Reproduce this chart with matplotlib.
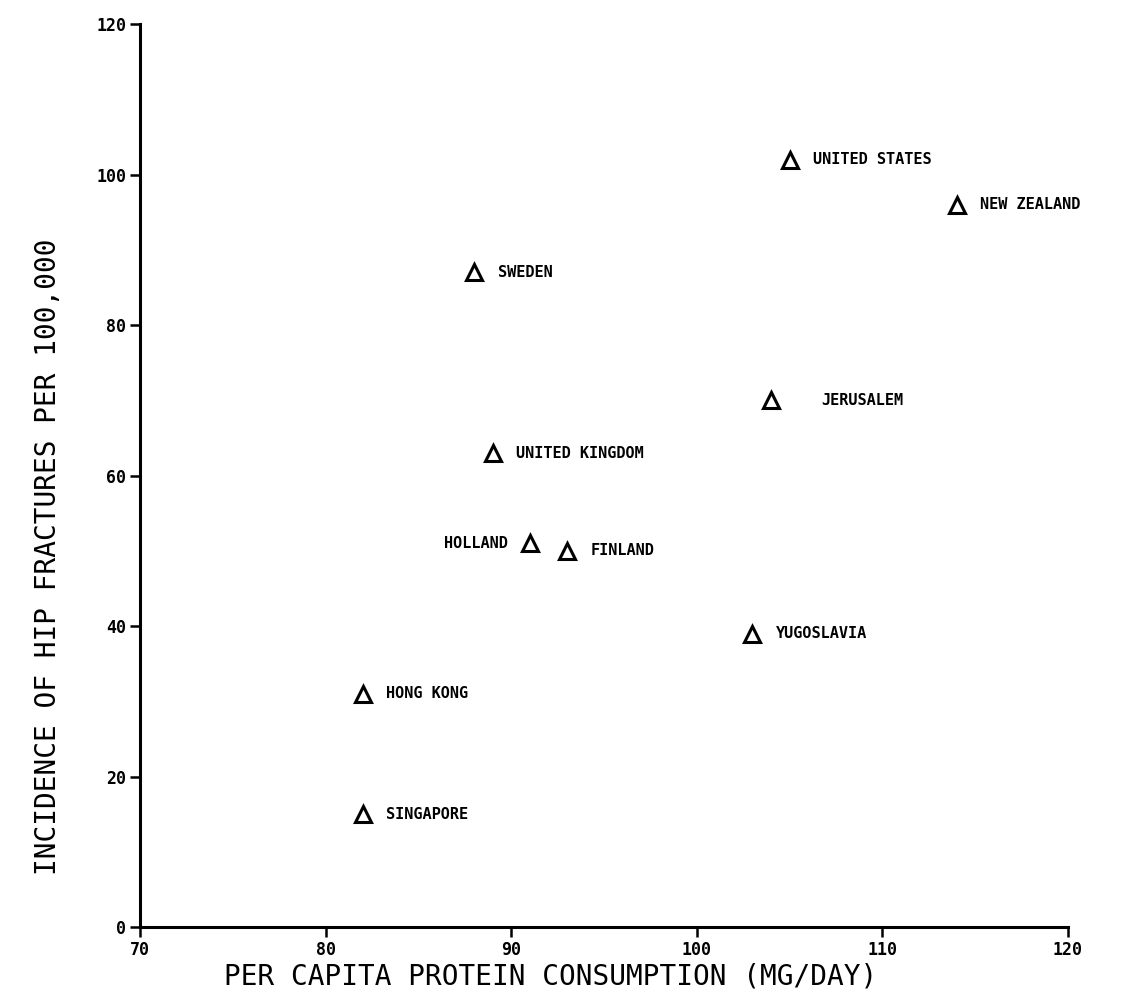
import matplotlib
matplotlib.use("Agg")
import matplotlib.pyplot as plt

# per capita protein consumption vs. hip fracture incidence
countries = ["UNITED STATES", "NEW ZEALAND", "SWEDEN", "JERUSALEM", "UNITED KINGDOM",
             "HOLLAND", "FINLAND", "YUGOSLAVIA", "HONG KONG", "SINGAPORE"]
protein = [105, 114, 88, 104, 89, 91, 93, 103, 82, 82]
fractures = [102, 96, 87, 70, 63, 51, 50, 39, 31, 15]

x_ticks = [70, 80, 90, 100, 110, 120]
y_ticks = [0, 20, 40, 60, 80, 100, 120]

font = "DejaVu Sans Mono"

fig = plt.figure(figsize=(11.3, 10.01), dpi=100)
ax = fig.add_axes([0.1239, 0.0739, 0.8212, 0.902])

ax.plot(protein, fractures, linestyle="none", marker="^", markersize=11,
        markerfacecolor="none", markeredgecolor="black", markeredgewidth=2.2,
        clip_on=False)

for name, x, y in zip(countries, protein, fractures):
    if name == "HOLLAND":
        ax.annotate(name, (x, y), xytext=(-16, 0), textcoords="offset points",
                    ha="right", va="center", fontsize=11, fontweight="bold", family=font)
    elif name == "JERUSALEM":
        ax.annotate(name, (x, y), xytext=(36, 0), textcoords="offset points",
                    ha="left", va="center", fontsize=11, fontweight="bold", family=font)
    else:
        ax.annotate(name, (x, y), xytext=(17, 0), textcoords="offset points",
                    ha="left", va="center", fontsize=11, fontweight="bold", family=font)

ax.set_xlim(70, 120)
ax.set_ylim(0, 120)
ax.set_xticks(x_ticks)
ax.set_yticks(y_ticks)
ax.set_xticklabels([str(t) for t in x_ticks], fontsize=12, fontweight="bold", family=font)
ax.set_yticklabels([str(t) for t in y_ticks], fontsize=12, fontweight="bold", family=font)

for side in ["top", "right"]:
    ax.spines[side].set_visible(False)
for side in ["left", "bottom"]:
    ax.spines[side].set_linewidth(2.2)
ax.tick_params(direction="out", length=7, width=1.8, pad=3)

ax.set_xlabel("PER CAPITA PROTEIN CONSUMPTION (MG/DAY)", fontsize=20, family=font)
ax.set_ylabel("INCIDENCE OF HIP FRACTURES PER 100,000", fontsize=20, family=font)
ax.xaxis.set_label_coords(0.442, -0.039)
ax.yaxis.set_label_coords(-0.084, 0.41)

fig.savefig("out.png", dpi=100)
